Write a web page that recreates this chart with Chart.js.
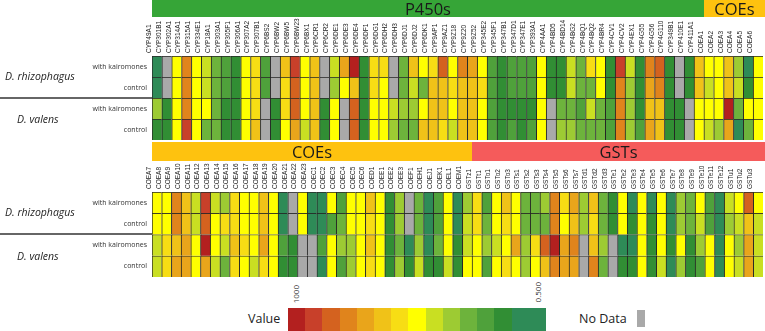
<!DOCTYPE html>
<html>
<head>
<meta charset="utf-8">
<script src="https://cdn.jsdelivr.net/npm/chart.js@4.4.1/dist/chart.umd.min.js"></script>
<style>
body { margin: 0; background: #fff; }
#wrap { position: relative; width: 765px; height: 331px; overflow: hidden; font-family: "Open Sans", sans-serif; color: #222; }
canvas { position: absolute; left: 0; }
.band { position: absolute; display: flex; align-items: center; justify-content: center; font-size: 16.5px; color: #1a1a1a; }
.sp { position: absolute; font-style: italic; font-size: 10.5px; line-height: 14px; white-space: nowrap; }
.sep { position: absolute; left: 0; width: 152px; height: 2px; background: #666; }
.lbl { position: absolute; font-size: 12.5px; line-height: 16px; white-space: nowrap; }
.tick { position: absolute; font-size: 8px; line-height: 9px; writing-mode: vertical-rl; transform: rotate(180deg); color: #333; }
</style>
</head>
<body>
<div id="wrap">
  <canvas id="topChart" width="765" height="123" style="top:18px"></canvas>
  <canvas id="bottomChart" width="765" height="117" style="top:161px"></canvas>
  <div class="sp" style="left:5px;top:69px">D. rhizophagus</div>
  <div class="sep" style="top:97px"></div>
  <div class="sp" style="left:17px;top:112px">D. valens</div>
  <div class="sp" style="left:5px;top:205px">D. rhizophagus</div>
  <div class="sep" style="top:233px"></div>
  <div class="sp" style="left:17px;top:249px">D. valens</div>
  <div id="legend"></div>
</div>
<script>
// rows, top to bottom
const rowLabels = ['with kairomones', 'control', 'with kairomones', 'control'];

// top panel
const topGenes = ['CYP49A1','CYP301B1','CYP302A1','CYP314A1','CYP315A1','CYP334E1','CYP18A1','CYP303A1','CYP305F1','CYP306A1',
  'CYP307A2','CYP307B1','CYP6BS2','CYP6BW2','CYP6BW5','CYP6BW23','CYP6BX1','CYP6CR1','CYP6CR2','CYP6DE1',
  'CYP6DE3','CYP6DE4','CYP6DF1','CYP6DG1','CYP6DH2','CYP6DH3','CYP6DJ1','CYP6DJ2','CYP6DK1','CYP9AP1',
  'CYP9AZ1','CYP9Z18','CYP9Z20','CYP9Z52','CYP345E2','CYP345F1','CYP347B1','CYP347D1','CYP347E1','CYP393A1',
  'CYP4AA1','CYP4BD5','CYP4BD14','CYP4BG2','CYP4BQ1','CYP4BQ2','CYP4BR4','CYP4CV1','CYP4CV2','CYP4EX1',
  'CYP4G55','CYP4G56','CYP4G110','CYP349B1','CYP410E1','CYP411A1','COEA1','COEA2','COEA3','COEA4',
  'COEA5','COEA6'];
const topFamilies = ['P450s', 'COEs'];
const topFamilyCounts = [56, 6];

const topRhizoKairo = [0.50,null,0.73,0.88,0.73,0.69,0.62,0.58,0.54,0.73,
  0.77,0.58,null,0.81,0.96,0.73,0.81,null,0.69,0.85,
  1.00,0.54,0.77,0.77,null,0.62,0.81,0.73,0.77,0.92,
  0.73,0.88,0.85,0.73,0.58,0.54,0.58,0.58,0.58,0.73,
  0.54,0.54,0.69,0.62,0.77,0.73,0.54,0.96,0.69,0.54,
  0.88,0.92,0.54,null,0.54,0.81,0.73,0.73,0.81,0.65,
  0.50,0.73];
const topRhizoCtrl = [0.50,null,0.73,0.88,0.73,0.69,0.62,0.58,0.54,0.73,
  0.77,0.58,null,0.77,0.92,0.73,0.81,null,0.65,0.73,
  0.81,0.54,0.77,0.73,null,0.62,0.69,0.62,0.81,0.81,
  0.77,0.81,0.81,0.77,0.58,0.54,0.58,0.58,0.58,0.73,
  0.54,0.54,0.69,0.62,0.62,0.73,0.54,0.88,0.65,0.54,
  0.85,0.88,0.54,null,0.54,0.81,0.69,0.73,0.81,0.69,
  0.54,0.73];
const topValensKairo = [0.65,0.54,0.73,0.88,0.73,0.73,0.62,0.54,0.54,0.73,
  0.77,null,0.54,0.77,0.92,0.73,0.81,0.54,0.73,null,
  0.92,0.54,0.73,0.73,0.69,0.65,0.65,0.73,0.81,0.81,
  0.73,0.81,0.81,0.73,0.58,0.54,0.54,0.54,0.54,0.73,
  null,0.62,0.62,0.58,0.69,0.62,0.58,0.88,0.65,0.54,
  0.81,0.81,0.54,0.54,null,0.73,0.73,0.73,1.00,0.62,
  0.73,0.73];
const topValensCtrl = [0.54,0.54,0.73,0.96,0.73,0.62,0.62,0.54,0.54,0.73,
  0.81,null,0.54,0.73,0.85,0.69,0.81,0.54,0.73,null,
  0.92,0.54,0.73,0.73,0.65,0.62,0.62,0.81,0.81,0.77,
  0.69,0.81,0.81,0.73,0.58,0.54,0.58,0.54,0.58,0.73,
  null,0.65,0.65,0.62,0.62,0.62,0.58,0.88,0.65,0.58,
  0.85,0.81,0.54,0.54,null,0.73,0.69,0.65,0.85,0.50,
  0.62,0.73];

// bottom panel
const bottomGenes = ['COEA7','COEA8','COEA9','COEA10','COEA11','COEA12','COEA13','COEA14','COEA15','COEA16',
  'COEA17','COEA18','COEA19','COEA20','COEA21','COEA22','COEA23','COEC1','COEC2','COEC3',
  'COEC4','COEC5','COEC6','COED1','COEE1','COEE2','COEE3','COEF1','COEH1','COEJ1',
  'COEK1','COEL1','COEM1','GSTz1','GSTt1','GSTo1','GSTo2','GSTo3','GSTs1','GSTs2',
  'GSTs3','GSTs4','GSTs5','GSTs6','GSTs7','GSTd1','GSTd2','GSTd3','GSTe1','GSTe2',
  'GSTe3','GSTe4','GSTe5','GSTe6','GSTe7','GSTe8','GSTe9','GSTe10','GSTe11','GSTe12',
  'GSTu1','GSTu2','GSTu3'];
const bottomFamilies = ['COEs', 'GSTs'];
const bottomFamilyCounts = [33, 30];

const bottomRhizoKairo = [0.73,0.73,0.88,0.81,0.69,0.96,0.69,0.65,0.77,0.73,
  0.73,0.81,0.73,0.50,null,0.73,0.50,0.50,0.73,0.58,
  0.73,0.73,0.81,0.73,0.54,0.65,null,0.62,0.50,0.58,
  0.73,0.50,0.65,0.77,0.58,0.73,0.81,0.73,0.62,0.62,
  0.65,0.88,0.77,0.85,0.65,0.81,0.62,0.54,0.73,0.50,
  0.73,0.50,0.73,0.50,0.65,0.62,0.73,0.58,0.50,0.69,
  0.73,0.92,0.73];
const bottomRhizoCtrl = [0.73,0.73,0.88,0.81,0.69,0.92,0.73,0.77,0.77,0.73,
  0.73,0.81,0.73,0.50,null,0.73,0.50,0.50,0.58,0.62,
  0.73,0.73,0.77,0.73,0.54,0.65,null,0.62,0.50,0.58,
  0.73,0.50,0.69,0.77,0.62,0.73,0.77,0.73,0.62,0.62,
  0.62,0.88,0.73,0.81,0.65,0.77,0.62,0.54,0.73,0.54,
  0.73,0.54,0.73,0.50,0.65,0.62,0.69,0.58,0.50,0.65,
  0.69,0.81,0.69];
const bottomValensKairo = [0.69,0.77,0.81,0.85,0.73,1.00,0.73,0.69,0.81,0.77,
  0.73,0.85,0.73,0.58,0.54,null,null,0.58,0.73,0.65,
  0.65,0.73,0.81,0.73,0.54,0.62,0.50,0.65,0.50,0.62,
  0.73,0.54,0.69,0.73,0.65,0.69,0.73,0.85,0.65,0.77,
  0.92,1.00,0.85,0.88,null,0.81,0.65,null,0.50,0.50,
  0.73,0.54,0.73,0.54,0.73,0.54,0.65,0.73,0.50,0.73,
  0.65,0.85,0.69];
const bottomValensCtrl = [0.69,0.77,0.85,0.85,0.73,0.85,0.69,0.62,0.77,0.73,
  0.69,0.77,0.73,0.54,0.54,null,null,0.50,0.73,0.58,
  0.65,0.73,0.77,0.73,0.54,0.65,0.54,0.69,0.54,0.54,
  0.69,0.54,0.73,0.73,0.58,0.73,0.77,0.73,0.65,0.73,
  0.81,0.88,0.85,0.85,null,0.88,0.62,null,0.54,0.54,
  0.73,0.54,0.69,0.50,0.65,0.54,0.58,0.73,0.50,0.73,
  0.69,0.85,0.69];

// colour scale: 1000 (red) ... 0.500 (green)
const palette = ['#b3201f','#c8402a','#d4621f','#e0841c','#e9a51b','#f0c218','#f7dd14',
  '#ffff00','#c9df22','#9dcb33','#6db33c','#4fa13b','#318e34','#2e8b57'];
const noDataColor = '#a9a9a9';
const familyColors = {'P450s': '#36a537', 'COEs': '#fec20f', 'GSTs': '#f55b5b'};

function colorFor(v) {
  if (v === null) return noDataColor;
  let k = Math.round((1 - v) / 0.5 * 13);
  return palette[Math.max(0, Math.min(13, k))];
}

function makeHeatmap(id, genes, rows, axisHeight) {
  const datasets = rows.map((vals, i) => ({
    data: vals.map(() => [i, i + 1]),
    backgroundColor: vals.map(colorFor),
    borderColor: '#262626',
    borderWidth: {left: 1, top: 1, right: 0, bottom: 0},
    borderSkipped: false,
    grouped: false,
    categoryPercentage: 1,
    barPercentage: 1
  }));
  return new Chart(document.getElementById(id), {
    type: 'bar',
    data: {labels: genes, datasets: datasets},
    options: {
      responsive: false,
      animation: false,
      devicePixelRatio: 1,
      layout: {padding: {top: 0, right: 2, bottom: 1, left: 0}},
      plugins: {legend: {display: false}, tooltip: {enabled: false}},
      scales: {
        x: {
          position: 'top',
          offset: true,
          grid: {display: false, drawTicks: false},
          border: {display: false},
          ticks: {autoSkip: false, minRotation: 90, maxRotation: 90, padding: 3, color: '#222',
                  font: {family: 'Liberation Sans', size: 6.5}},
          afterFit: s => { s.height = axisHeight; s.paddingLeft = 0; s.paddingRight = 0; }
        },
        y: {
          min: 0, max: 4, reverse: true,
          grid: {display: false, drawTicks: false},
          border: {display: false},
          afterBuildTicks: s => { s.ticks = [0.5, 1.5, 2.5, 3.5].map(v => ({value: v})); },
          ticks: {callback: (v, i) => rowLabels[i], padding: 5, color: '#333',
                  font: {family: 'Open Sans', size: 7}},
          afterFit: s => { s.width = 152; s.paddingTop = 0; s.paddingBottom = 0; }
        }
      }
    }
  });
}

//family bands above the columns
function addBands(chart, names, counts, top, height) {
  const wrap = document.getElementById('wrap');
  const area = chart.chartArea;
  const w = (area.right - area.left) / chart.data.labels.length;
  let start = 0;
  names.forEach((name, i) => {
    const d = document.createElement('div');
    d.className = 'band';
    const left = area.left + start * w;
    const right = i === names.length - 1 ? 765 : area.left + (start + counts[i]) * w;
    d.style.left = left + 'px';
    d.style.width = (right - left) + 'px';
    d.style.top = top + 'px';
    d.style.height = height + 'px';
    d.style.background = familyColors[name];
    d.textContent = name;
    wrap.appendChild(d);
    start += counts[i];
  });
}

const topChart = makeHeatmap('topChart', topGenes,
  [topRhizoKairo, topRhizoCtrl, topValensKairo, topValensCtrl], 38);
const bottomChart = makeHeatmap('bottomChart', bottomGenes,
  [bottomRhizoKairo, bottomRhizoCtrl, bottomValensKairo, bottomValensCtrl], 31);

addBands(topChart, topFamilies, topFamilyCounts, 0, 17);
addBands(bottomChart, bottomFamilies, bottomFamilyCounts, 142, 19);

//legend
function drawLegend() {
  const lg = document.getElementById('legend');
  let html = '<div class="lbl" style="left:248px;top:311px">Value</div>';
  let x = 288;
  palette.forEach((c, i) => {
    const w = i === palette.length - 1 ? 34.4 : 17.2;
    html += `<div style="position:absolute;left:${x}px;top:308px;width:${w}px;height:23px;background:${c}"></div>`;
    x += w;
  });
  html += '<div class="tick" style="left:291px;top:285px">1000</div>';
  html += '<div class="tick" style="left:533px;top:282px">0.500</div>';
  html += '<div class="lbl" style="left:579px;top:311px">No Data</div>';
  html += `<div style="position:absolute;left:637px;top:310px;width:8px;height:17px;background:${noDataColor}"></div>`;
  lg.innerHTML = html;
}
drawLegend();
</script>
</body>
</html>
